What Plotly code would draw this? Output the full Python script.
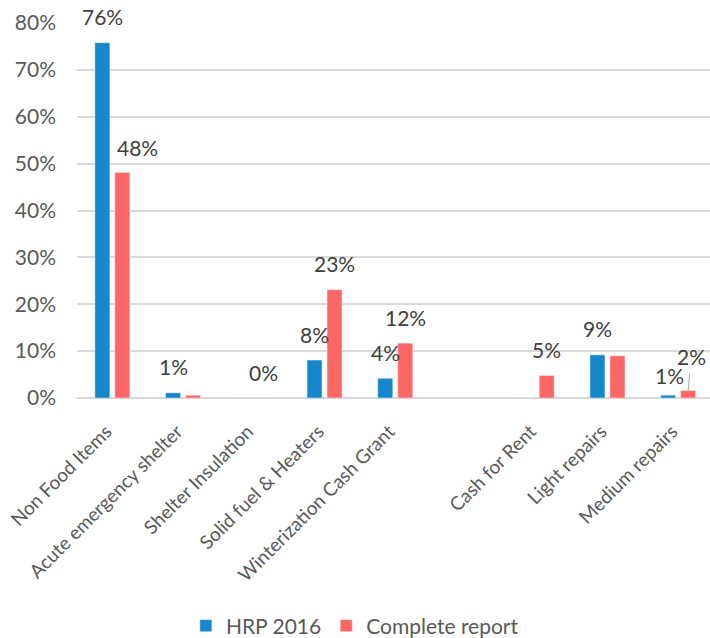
import plotly.graph_objects as go

# Shelter / NFI response breakdown by activity
categories = [
    "Non Food Items",
    "Acute emergency shelter",
    "Shelter Insulation",
    "Solid fuel & Heaters",
    "Winterization Cash Grant",
    " ",
    "Cash for Rent",
    "Light repairs",
    "Medium repairs",
]
hrp_2016 = [0.758, 0.011, 0.0, 0.081, 0.042, None, 0.0, 0.092, 0.006]
complete_report = [0.481, 0.006, 0.0, 0.231, 0.117, None, 0.048, 0.090, 0.016]

# which bars carry a value label
hrp_labelled = [True, True, False, True, True, False, False, True, True]
complete_labelled = [True, False, True, True, True, False, True, False, True]

# per-label nudges (xshift, yshift) for labels moved off their default spot
hrp_nudge = {8: (1, 20)}
complete_nudge = {0: (15, 25), 8: (3, 34)}

BLUE = "#1787CB"
RED = "#FF6666"
FONT = "Lato"
FS = 21
CAT_FS = 19
BARGAP = 0.4345
GROUPGAP = 0.25

fig = go.Figure()
fig.add_trace(go.Bar(name="HRP 2016", x=categories, y=hrp_2016, marker_color=BLUE))
fig.add_trace(go.Bar(name="Complete report", x=categories, y=complete_report, marker_color=RED))

# bar centre offset from the category centre, in category units
offset = (1 - BARGAP) / 4

annotations = []
for values, labelled, nudges, sign in (
    (hrp_2016, hrp_labelled, hrp_nudge, -1),
    (complete_report, complete_labelled, complete_nudge, 1),
):
    for i, (v, show) in enumerate(zip(values, labelled)):
        if not show or v is None:
            continue
        dx, dy = nudges.get(i, (0, 26))
        text = f"{round(v * 100):d}%"
        if sign == 1 and i == 8:
            # leader line from the label down to the bar
            annotations.append(dict(
                x=i + sign * offset, y=v, xref="x", yref="y",
                text=text, showarrow=True, ax=dx, ay=-dy,
                arrowhead=0, arrowwidth=1, arrowcolor="#a6a6a6",
                startstandoff=3,
                font=dict(family=FONT, size=FS, color="#404040"),
            ))
        else:
            annotations.append(dict(
                x=i + sign * offset, y=v, xref="x", yref="y",
                text=text, showarrow=False, xshift=dx, yshift=dy,
                yanchor="middle",
                font=dict(family=FONT, size=FS, color="#404040"),
            ))

fig.update_layout(
    width=710,
    height=638,
    margin=dict(l=77, r=0, t=23, b=240, autoexpand=False),
    paper_bgcolor="white",
    plot_bgcolor="white",
    barmode="group",
    bargap=BARGAP,
    bargroupgap=GROUPGAP,
    font=dict(family=FONT, size=FS, color="#595959"),
    showlegend=True,
    legend=dict(
        orientation="h",
        x=0.172, xanchor="left",
        y=-0.608, yanchor="middle",
        font=dict(family=FONT, size=FS, color="#595959"),
        itemwidth=30,
    ),
    annotations=annotations,
)
fig.update_xaxes(
    type="category",
    range=[-0.5, 8.45],
    tickangle=-45,
    showgrid=False,
    showline=False,
    ticks="outside",
    ticklen=14,
    tickcolor="rgba(0,0,0,0)",
    ticklabelshift=-6,
    automargin=False,
    tickfont=dict(family=FONT, size=CAT_FS, color="#595959"),
)
fig.update_yaxes(
    range=[0, 0.8],
    dtick=0.1,
    tickformat=".0%",
    showgrid=True,
    gridcolor="#d9d9d9",
    gridwidth=1.5,
    zeroline=True,
    zerolinecolor="#d9d9d9",
    zerolinewidth=1.5,
    ticks="",
    ticklabelstandoff=20,
    automargin=False,
    tickfont=dict(family=FONT, size=FS, color="#595959"),
)

fig.write_html("out.html")
